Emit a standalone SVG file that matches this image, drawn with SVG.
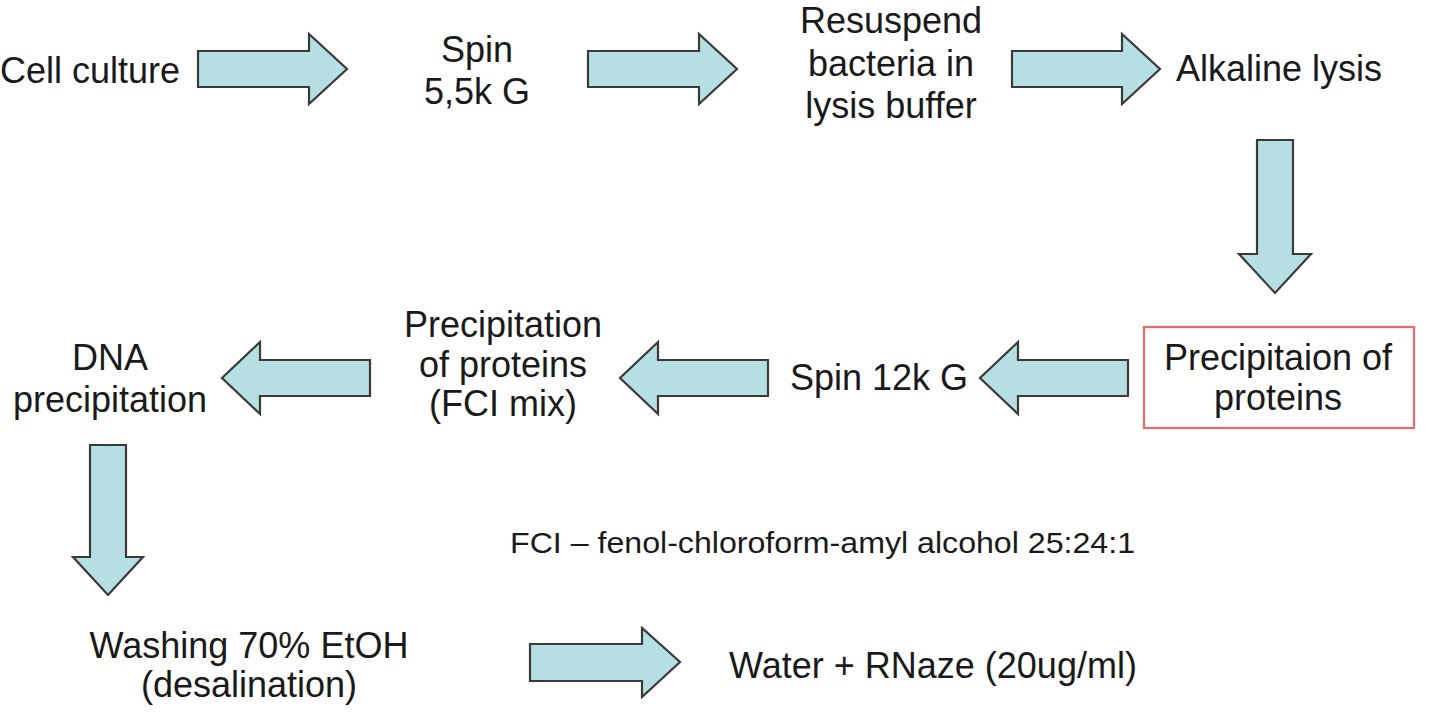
<svg xmlns="http://www.w3.org/2000/svg" width="1440" height="725" viewBox="0 0 1440 725">
<style>
.arr{fill:#b6dfe3;stroke:#3a3a3a;stroke-width:2.2;stroke-linejoin:miter}
.t{font-family:"Liberation Sans",Arial,sans-serif;font-size:36px;fill:#1a1a1a;text-anchor:middle}
.s{font-family:"Liberation Sans",Arial,sans-serif;font-size:30px;fill:#1a1a1a}
.box{fill:none;stroke:#e86a6a;stroke-width:2.2}
</style>
<rect width="1440" height="725" fill="#ffffff"/>
<g id="connectors">
<path class="arr" d="M198,51 H309 V34 L347,69 L309,104 V87 H198 Z"/>
<path class="arr" d="M588,51 H699 V34 L737,69 L699,104 V87 H588 Z"/>
<path class="arr" d="M1012,51 H1122 V34 L1160,69 L1122,104 V87 H1012 Z"/>
<path class="arr" d="M1257,140 H1293 V254 H1311 L1275,293 L1239,254 H1257 Z"/>
<path class="arr" d="M1128,360 H1018 V342 L980,378 L1018,414 V396 H1128 Z"/>
<path class="arr" d="M768,360 H658 V342 L620,378 L658,414 V396 H768 Z"/>
<path class="arr" d="M370,360 H260 V342 L222,378 L260,414 V396 H370 Z"/>
<path class="arr" d="M90,445 H126 V557 H143 L108,595 L73,557 H90 Z"/>
<path class="arr" d="M530,644 H642 V628 L680,662 L642,697 V681 H530 Z"/>
</g>
<g id="cell-culture"><text class="t" x="90" y="83">Cell culture</text></g>
<g id="spin-55k"><text class="t" x="477" y="62">Spin</text><text class="t" x="477" y="104">5,5k G</text></g>
<g id="resuspend"><text class="t" x="891" y="33">Resuspend</text><text class="t" x="891" y="76">bacteria in</text><text class="t" x="891" y="118">lysis buffer</text></g>
<g id="alkaline-lysis"><text class="t" x="1279" y="81">Alkaline lysis</text></g>
<g id="precipitaion-of-proteins"><rect class="box" x="1144" y="327" width="270" height="101"/><text class="t" x="1278" y="370">Precipitaion of</text><text class="t" x="1278" y="410">proteins</text></g>
<g id="spin-12k"><text class="t" x="879" y="390">Spin 12k G</text></g>
<g id="precipitation-fci"><text class="t" x="503" y="337">Precipitation</text><text class="t" x="503" y="377">of proteins</text><text class="t" x="503" y="416">(FCI mix)</text></g>
<g id="dna-precipitation"><text class="t" x="110" y="370">DNA</text><text class="t" x="110" y="412">precipitation</text></g>
<g id="washing"><text class="t" x="249" y="658">Washing 70% EtOH</text><text class="t" x="249" y="697">(desalination)</text></g>
<g id="water-rnaze"><text class="t" x="933" y="678">Water + RNaze (20ug/ml)</text></g>
<g id="note"><text class="s" x="510" y="553" textLength="625" lengthAdjust="spacingAndGlyphs">FCI – fenol-chloroform-amyl alcohol 25:24:1</text></g>
</svg>
